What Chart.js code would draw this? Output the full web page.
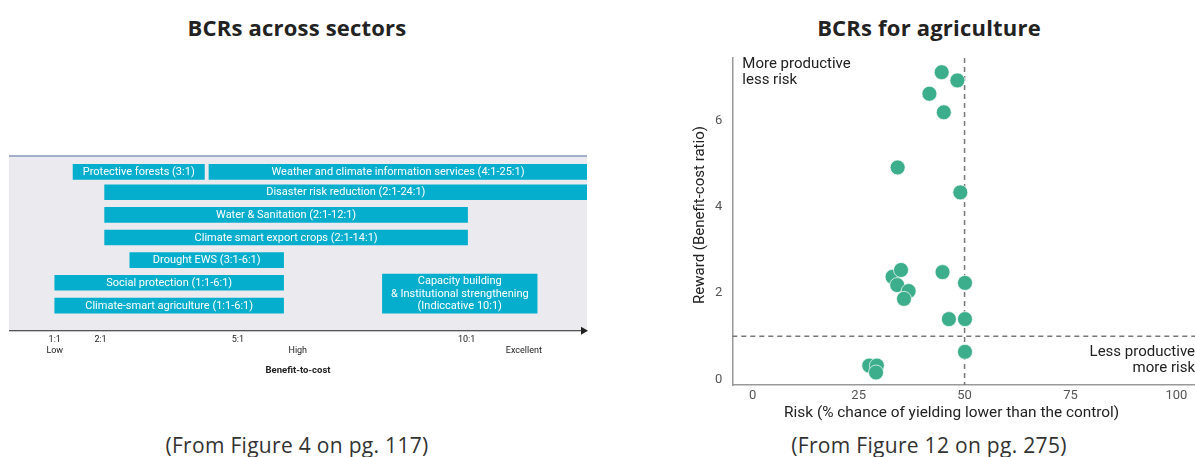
<!DOCTYPE html>
<html>
<head>
<meta charset="utf-8">
<script src="https://cdn.jsdelivr.net/npm/chart.js@4"></script>
<style>
  body { margin: 0; background: #fff; width: 1195px; height: 457px; position: relative; overflow: hidden; font-family: "Open Sans", sans-serif; }
  .title { position: absolute; top: 12px; font-weight: bold; font-size: 22px; letter-spacing: 0.2px; line-height: 30px; color: #222; text-align: center; }
  .caption { position: absolute; top: 430px; font-size: 21px; letter-spacing: 0.3px; line-height: 30px; color: #333; text-align: center; }
  .box { position: absolute; }
</style>
</head>
<body>
<div class="title" style="left:0; width:594px;">BCRs across sectors</div>
<div class="title" style="left:680px; width:498px;">BCRs for agriculture</div>
<div class="box" style="left:0; top:140px; width:600px; height:236px;"><canvas id="sectorChart"></canvas></div>
<div class="box" style="left:680px; top:40px; width:515px; height:389px;"><canvas id="agriChart"></canvas></div>
<div class="caption" style="left:0; width:594px;">(From Figure 4 on pg. 117)</div>
<div class="caption" style="left:680px; width:498px;">(From Figure 12 on pg. 275)</div>

<script>
    // ---- Left chart: BCR ranges by sector ----
    const sectorLabels = [
        'Protective forests (3:1)',
        'Weather and climate information services (4:1-25:1)',
        'Disaster risk reduction (2:1-24:1)',
        'Water & Sanitation (2:1-12:1)',
        'Climate smart export crops (2:1-14:1)',
        'Drought EWS (3:1-6:1)',
        'Social protection (1:1-6:1)',
        'Climate-smart agriculture (1:1-6:1)'
    ];
    const sectorRows = [0, 0, 0.9, 1.9, 2.9, 3.9, 4.9, 5.91];
    const sectorStart = [1.4, 4.37, 2.09, 2.09, 2.09, 2.64, 1.0, 1.0];
    const sectorEnd = [4.27, 12.63, 12.63, 10.02, 10.02, 6.0, 6.0, 6.0];

    const capacityLabel = ['Capacity building', '& Institutional strengthening', '(Indiccative 10:1)'];
    const capacityRow = 5.38;
    const capacityRange = [8.16, 11.54];

    const bcrTicks = [1, 2, 5, 6.31, 10, 11.25];
    const bcrTickLabels = [['1:1', 'Low'], ['2:1', ''], ['5:1', ''], ['', 'High'], ['10:1', ''], ['', 'Excellent']];

    // ---- Right chart: risk vs reward for agriculture ----
    const riskValues = [44.6, 48.3, 41.7, 45.1, 34.2, 49.0, 33.0, 35.0, 34.1, 36.8, 35.7, 44.8, 50.1, 46.3, 50.1, 50.1, 27.5, 29.3, 29.1];
    const rewardValues = [7.13, 6.94, 6.63, 6.20, 4.92, 4.34, 2.38, 2.54, 2.19, 2.05, 1.87, 2.49, 2.24, 1.40, 1.40, 0.64, 0.32, 0.32, 0.16];
    const riskTicks = [0, 25, 50, 75, 100];
    const rewardTicks = [0, 2, 4, 6];
    const riskThreshold = 50;
    const rewardThreshold = 1;

    const barColor = '#05AECC';
    const dotColor = '#3DAE8B';

    // gray panel, top rule, arrow axis and text inside bars
    const sectorDecor = {
        id: 'sectorDecor',
        beforeDatasetsDraw(chart) {
            const { ctx, chartArea: a } = chart;
            ctx.save();
            ctx.fillStyle = '#EAEAEF';
            ctx.fillRect(a.left, a.top, a.right - a.left, a.bottom - a.top);
            ctx.strokeStyle = '#8797BF';
            ctx.lineWidth = 1.5;
            ctx.beginPath();
            ctx.moveTo(a.left, a.top);
            ctx.lineTo(a.right, a.top);
            ctx.stroke();
            ctx.strokeStyle = '#222';
            ctx.lineWidth = 1.2;
            ctx.beginPath();
            ctx.moveTo(a.left, a.bottom);
            ctx.lineTo(a.right - 4, a.bottom);
            ctx.stroke();
            ctx.fillStyle = '#222';
            ctx.beginPath();
            ctx.moveTo(a.right + 1, a.bottom);
            ctx.lineTo(a.right - 6, a.bottom - 4);
            ctx.lineTo(a.right - 6, a.bottom + 4);
            ctx.closePath();
            ctx.fill();
            ctx.restore();
        },
        afterDatasetsDraw(chart) {
            const { ctx } = chart;
            ctx.save();
            ctx.fillStyle = '#fff';
            ctx.textAlign = 'center';
            ctx.textBaseline = 'middle';
            ctx.font = '11px Roboto';
            chart.getDatasetMeta(0).data.forEach((bar, i) => {
                ctx.fillText(sectorLabels[i], (bar.x + bar.base) / 2, bar.y + 0.5);
            });
            const cap = chart.getDatasetMeta(1).data[0];
            const cx = (cap.x + cap.base) / 2;
            capacityLabel.forEach((t, i) => {
                ctx.fillText(t, cx, cap.y + (i - 1) * 12.5 + 0.5);
            });
            ctx.restore();
        }
    };

    new Chart(document.getElementById('sectorChart'), {
        type: 'bar',
        data: {
            datasets: [{
                data: sectorRows.map((r, i) => ({ y: r, x: [sectorStart[i], sectorEnd[i]] })),
                backgroundColor: barColor,
                barThickness: 15,
                grouped: false
            }, {
                data: [{ y: capacityRow, x: capacityRange }],
                backgroundColor: barColor,
                barThickness: 39,
                grouped: false
            }]
        },
        options: {
            indexAxis: 'y',
            responsive: true,
            maintainAspectRatio: false,
            animation: false,
            layout: { padding: { left: 9, right: 13, top: 16, bottom: 0 } },
            plugins: { legend: { display: false }, tooltip: { enabled: false } },
            scales: {
                y: {
                    type: 'linear',
                    display: false,
                    offset: false,
                    reverse: true,
                    min: -0.70,
                    max: 7.02
                },
                x: {
                    type: 'linear',
                    min: 0,
                    max: 12.63,
                    grid: { display: false, drawTicks: false },
                    border: { display: false },
                    afterBuildTicks(scale) {
                        scale.ticks = bcrTicks.map(v => ({ value: v }));
                    },
                    ticks: {
                        autoSkip: false,
                        maxRotation: 0,
                        padding: 3,
                        color: '#222',
                        font: { family: 'Roboto', size: 9, lineHeight: 1.27 },
                        callback: (v, i) => bcrTickLabels[i]
                    },
                    title: {
                        display: true,
                        text: 'Benefit-to-cost',
                        color: '#222',
                        font: { family: 'Roboto', size: 9.5, weight: 'bold' },
                        padding: { top: 5, bottom: 0 }
                    }
                }
            }
        },
        plugins: [sectorDecor]
    });

    // dashed reference lines, quadrant notes and axis titles
    const agriDecor = {
        id: 'agriDecor',
        beforeDatasetsDraw(chart) {
            const { ctx, chartArea: a, scales: { x, y } } = chart;
            ctx.save();
            ctx.strokeStyle = '#777';
            ctx.lineWidth = 1.5;
            ctx.setLineDash([5, 4]);
            const vx = x.getPixelForValue(riskThreshold);
            const hy = y.getPixelForValue(rewardThreshold);
            ctx.beginPath();
            ctx.moveTo(vx, a.top);
            ctx.lineTo(vx, a.bottom);
            ctx.moveTo(a.left, hy);
            ctx.lineTo(a.right, hy);
            ctx.stroke();
            ctx.setLineDash([]);
            ctx.fillStyle = '#222';
            ctx.font = '15px Roboto';
            ctx.textBaseline = 'middle';
            ctx.textAlign = 'left';
            ctx.fillText('More productive', a.left + 10, a.top + 6);
            ctx.fillText('less risk', a.left + 10, a.top + 22);
            ctx.textAlign = 'right';
            ctx.fillText('Less productive', a.right, hy + 15.5);
            ctx.fillText('more risk', a.right, hy + 31.5);

            // axis titles
            ctx.textAlign = 'center';
            ctx.font = '15.4px Roboto';
            ctx.fillText('Risk (% chance of yielding lower than the control)', (a.left + a.right) / 2 - 12, a.bottom + 28);
            ctx.translate(a.left - 32, (a.top + a.bottom) / 2 - 6.5);
            ctx.rotate(-Math.PI / 2);
            ctx.font = '15px Roboto';
            ctx.fillText('Reward (Benefit-cost ratio)', 0, 0);
            ctx.restore();
        }
    };

    new Chart(document.getElementById('agriChart'), {
        type: 'scatter',
        data: {
            datasets: [{
                data: riskValues.map((r, i) => ({ x: r, y: rewardValues[i] })),
                backgroundColor: dotColor,
                borderColor: 'rgba(255,255,255,0.7)',
                borderWidth: 1,
                pointRadius: 7.5
            }]
        },
        options: {
            responsive: true,
            maintainAspectRatio: false,
            animation: false,
            layout: { autoPadding: false, padding: { left: 25, right: 0, top: 18, bottom: 23 } },
            plugins: { legend: { display: false }, tooltip: { enabled: false } },
            scales: {
                x: {
                    min: -4.83,
                    max: 104.4,
                    grid: { display: false, drawTicks: false },
                    border: { display: true, color: '#999', width: 1.5 },
                    afterBuildTicks(scale) {
                        scale.ticks = riskTicks.map(v => ({ value: v }));
                    },
                    ticks: { color: '#555', padding: 4, font: { family: 'Roboto', size: 13, lineHeight: 1 } }
                },
                y: {
                    min: -0.13,
                    max: 7.46,
                    grid: { display: false, drawTicks: false },
                    border: { display: true, color: '#999', width: 1.5 },
                    afterBuildTicks(scale) {
                        scale.ticks = rewardTicks.map(v => ({ value: v }));
                    },
                    ticks: { color: '#555', padding: 10, font: { family: 'Roboto', size: 13 } }
                }
            }
        },
        plugins: [agriDecor]
    });
</script>
</body>
</html>
